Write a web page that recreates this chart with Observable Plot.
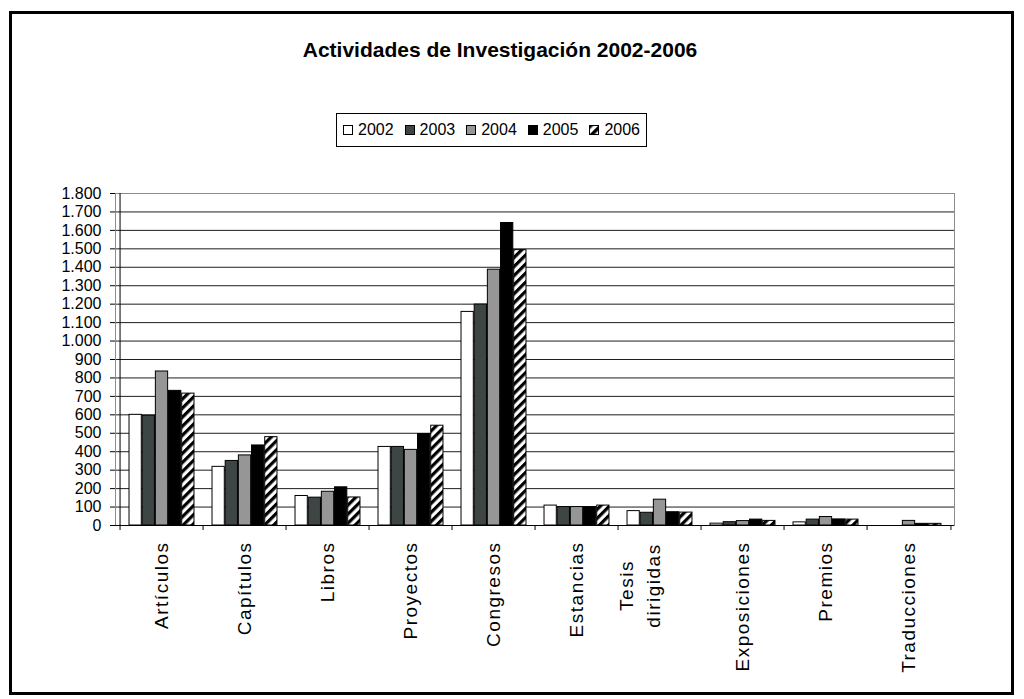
<!DOCTYPE html>
<html>
<head>
<meta charset="utf-8">
<script src="https://cdn.jsdelivr.net/npm/d3@7"></script>
<script src="https://cdn.jsdelivr.net/npm/@observablehq/plot@0.6"></script>
<style>
  body { margin: 0; background: #fff; font-family: "Liberation Sans", Arial, sans-serif; }
  #frame { position: absolute; left: 9px; top: 11px; width: 1005px; height: 684px; border: 3px solid #000; box-sizing: border-box; }
  #title { position: absolute; left: 0; width: 1000px; top: 38px; text-align: center; font-weight: bold; font-size: 21px; line-height: 24px; color: #000; }
  #legend { position: absolute; left: 336px; top: 113px; width: 311px; height: 34px; border: 1px solid #000; box-sizing: border-box;
            display: flex; align-items: center; padding-left: 6px; font-size: 16px; color: #000; }
  #legend .item { display: flex; align-items: center; margin-right: 11px; }
  #legend svg { margin-right: 5px; }
  #chart { position: absolute; left: 12px; top: 160px; }
  #chart g[aria-label="x-axis tick label"], #chart g[aria-label="text"] { letter-spacing: 1.5px; }
</style>
</head>
<body>
<div id="frame"></div>
<div id="title">Actividades de Investigación 2002-2006</div>
<div id="legend"></div>
<div id="chart"></div>
<script>
const categories = ["Artículos", "Capítulos", "Libros", "Proyectos", "Congresos", "Estancias", "Tesis dirigidas", "Exposiciones", "Premios", "Traducciones"];
const years = ["2002", "2003", "2004", "2005", "2006"];
const v2002 = [600, 318, 160, 426, 1158, 108, 78, 10, 17, 0];
const v2003 = [595, 350, 151, 426, 1198, 100, 69, 18, 32, 0];
const v2004 = [835, 380, 183, 410, 1387, 100, 140, 24, 46, 25];
const v2005 = [730, 434, 207, 496, 1640, 100, 72, 32, 33, 9];
const v2006 = [715, 479, 152, 541, 1493, 108, 70, 25, 32, 9];
const series = [v2002, v2003, v2004, v2005, v2006];
const yTicks = d3.range(0, 1801, 100);
const fills = ["#ffffff", "#3d4644", "#969696", "#000000", "url(#hatch)"];

const TESIS = "Tesis dirigidas";
const rows = categories.flatMap((c, i) => years.map((y, j) => ({category: c, year: y, value: series[j][i]})));

// layout
const W = 999, H = 532, ML = 103, MR = 57, MT = 33, MB = 167;
const step = (W - ML - MR) / categories.length;
const bw = step * 0.157;
const gap = (step - years.length * bw) / 2;
const tickUnits = 5 * 1800 / (H - MT - MB);
const fmt = d3.formatLocale({decimal: ",", thousands: ".", grouping: [3], currency: ["", " €"]}).format(",d");

const NS = "http://www.w3.org/2000/svg";
function hatchDefs(id, size, bar) {
  const defs = document.createElementNS(NS, "defs");
  const p = document.createElementNS(NS, "pattern");
  p.setAttribute("id", id);
  p.setAttribute("patternUnits", "userSpaceOnUse");
  p.setAttribute("width", size);
  p.setAttribute("height", size);
  p.setAttribute("patternTransform", "rotate(45)");
  const bg = document.createElementNS(NS, "rect");
  bg.setAttribute("width", size); bg.setAttribute("height", size); bg.setAttribute("fill", "#fff");
  const r = document.createElementNS(NS, "rect");
  r.setAttribute("width", bar); r.setAttribute("height", size); r.setAttribute("fill", "#000");
  p.appendChild(bg); p.appendChild(r); defs.appendChild(p);
  return defs;
}

const chart = Plot.plot({
  width: W, height: H,
  marginLeft: ML, marginRight: MR, marginTop: MT, marginBottom: MB,
  style: {fontFamily: "'Liberation Sans', Arial, sans-serif", fontSize: "16px", background: "transparent", color: "#000", overflow: "visible"},
  x: {type: "band", domain: categories, padding: 0, axis: null},
  y: {domain: [0, 1800], axis: null},
  marks: [
    () => hatchDefs("hatch", 6.4, 3.2),
    Plot.gridY(yTicks.filter(t => t > 0 && t < 1800), {stroke: "#1e1e1e", strokeOpacity: 1}),
    Plot.frame({stroke: "#8c8c8c"}),
    ...years.map((yr, j) => Plot.barY(rows.filter(r => r.year === yr), {
      x: "category", y: "value", fill: fills[j], stroke: "#000", strokeWidth: 1,
      insetLeft: gap + j * bw, insetRight: step - gap - (j + 1) * bw
    })),
    Plot.ruleY([0], {stroke: "#000"}),
    Plot.ruleX([categories[0]], {x: d => d, dx: -step / 2, y1: -tickUnits, y2: 1800, stroke: "#000"}),
    Plot.ruleX(categories.slice(1), {x: d => d, dx: -step / 2, y1: -tickUnits, y2: 0, stroke: "#000"}),
    Plot.ruleX([categories[categories.length - 1]], {x: d => d, dx: step / 2, y1: -tickUnits, y2: 0, stroke: "#000"}),
    Plot.axisY({ticks: yTicks, tickFormat: fmt, tickSize: 5, tickPadding: 9, label: null, fontSize: 16}),
    Plot.axisX({ticks: categories.filter(c => c !== TESIS), tickSize: 0, tickRotate: -90, tickPadding: 16, label: null, fontSize: 19}),
    Plot.text([TESIS], {x: d => d, frameAnchor: "bottom", dy: 60, rotate: -90, textAnchor: "middle",
      text: d => d.replace(" ", "\n"), lineHeight: 1.4, fontSize: 19, fill: "#000"})
  ]
});
document.getElementById("chart").appendChild(chart);

// legend
const legend = document.getElementById("legend");
years.forEach((yr, j) => {
  const item = document.createElement("div");
  item.className = "item";
  const sw = document.createElementNS(NS, "svg");
  sw.setAttribute("width", 10); sw.setAttribute("height", 10);
  if (j === 4) sw.appendChild(hatchDefs("hatchLegend", 7, 3.5));
  const r = document.createElementNS(NS, "rect");
  r.setAttribute("x", 0.5); r.setAttribute("y", 0.5); r.setAttribute("width", 9); r.setAttribute("height", 9);
  r.setAttribute("fill", j === 4 ? "url(#hatchLegend)" : fills[j]);
  r.setAttribute("stroke", "#000");
  sw.appendChild(r);
  const t = document.createElement("span");
  t.textContent = yr;
  item.appendChild(sw); item.appendChild(t);
  legend.appendChild(item);
});
</script>
</body>
</html>
